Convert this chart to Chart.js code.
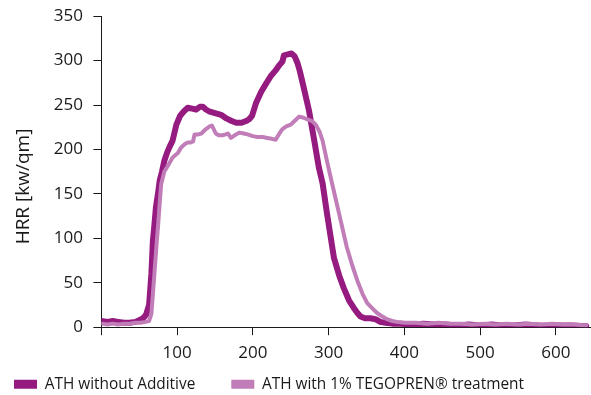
<!DOCTYPE html>
<html>
<head>
<meta charset="utf-8">
<script src="https://cdn.jsdelivr.net/npm/chart.js@4"></script>
<style>
  html, body { margin: 0; padding: 0; background: #fff; }
  #wrap { width: 591px; height: 395px; }
</style>
</head>
<body>
<div id="wrap"><canvas id="myChart"></canvas></div>
<script>
// HRR curves (time in s, HRR in kw/qm)

const darkTime = [0,8,15,22,30,37,45,50,55,59,
    63,66,68,70,72,75,77,80,83,87,
    90,94,99,104,109,114,120,125,130,134,
    138,142,150,158,165,172,178,185,191,195,
    199,204,211,218,224,230,235,239,241,246,
    251,255,259,262,267,274,281,287,292,298,
    307,314,320,327,333,338,342,348,355,362,
    368,375,384,395,410,425,440,455,470,485,
    500,515,530,545,560,575,590,605,620,640];
const darkHRR = [7,6,7,6,5,5,6,8,10,14,
    25,60,97,115,135,152,165,175,187,197,
    203,210,228,238,243,247,246,245,248,248,
    245,243,241,239,235,232,230,230,232,234,
    238,252,265,275,283,289,295,299,306,307,
    308,305,297,288,270,244,210,180,162,127,
    78,58,44,30,22,16,12,10,10,9,
    6,5,4,4,3,4,3,3,2,3,
    2,3,2,2,3,2,1,2,2,1];

const lightTime = [0,8,15,22,30,37,45,52,58,63,
    66,70,73,75,77,79,83,88,94,101,
    105,110,114,118,121,123,128,132,138,143,
    146,151,155,160,164,167,171,176,182,188,
    193,200,206,213,219,225,230,235,239,244,
    250,255,261,266,272,278,283,288,292,298,
    305,314,324,331,338,345,351,358,364,371,
    377,384,390,400,415,430,445,460,475,490,
    505,520,535,550,565,580,595,610,625,640];
const lightHRR = [4,3,4,3,4,4,5,5,6,7,
    15,60,95,116,140,161,175,182,191,196,
    202,206,208,208,209,217,217,218,223,226,
    227,218,216,216,217,218,213,216,219,218,
    217,215,214,214,213,212,211,218,223,226,
    228,232,237,236,234,232,228,220,210,186,
    160,127,90,70,52,37,27,21,16,12,
    9,7,6,5,5,4,5,4,4,3,
    4,3,4,3,4,3,4,3,3,2];

const seriesNames = ['ATH without Additive', 'ATH with 1% TEGOPREN\u00ae treatment'];
const xTicks = [100, 200, 300, 400, 500, 600];
const yTicks = [0, 50, 100, 150, 200, 250, 300, 350];

const darkColor = '#951b81';
const lightColor = '#c17db8';
const inkColor = '#1a1a1a';
const font = "'Open Sans', sans-serif";

const toPoints = (xs, ys) => xs.map((x, i) => ({x: x, y: ys[i]}));

const ctx = document.getElementById('myChart').getContext('2d');

const myChart = new Chart(ctx, {
    type: 'line',
    data: {
        datasets: [{
            label: seriesNames[0],
            data: toPoints(darkTime, darkHRR),
            borderColor: darkColor,
            backgroundColor: darkColor,
            borderWidth: 6,
            order: 1
        }, {
            label: seriesNames[1],
            data: toPoints(lightTime, lightHRR),
            borderColor: lightColor,
            backgroundColor: lightColor,
            borderWidth: 4,
            order: 0
        }]
    },
    options: {
        responsive: true,
        maintainAspectRatio: false,
        animation: false,
        elements: {
            point: {radius: 0},
            line: {tension: 0, borderJoinStyle: 'round', borderCapStyle: 'round'}
        },
        layout: {padding: {left: 10, right: 1, top: 0, bottom: -7}},
        scales: {
            x: {
                type: 'linear',
                min: 0,
                max: 645,
                afterBuildTicks: (axis) => {
                    axis.ticks = [0].concat(xTicks).map(v => ({value: v}));
                },
                afterFit: (axis) => {
                    axis.height += 1;
                },
                ticks: {
                    color: inkColor,
                    font: {family: font, size: 17},
                    padding: 8,
                    maxRotation: 0,
                    callback: (value) => value === 0 ? '' : value
                },
                grid: {
                    drawOnChartArea: false,
                    drawTicks: true,
                    tickLength: 8,
                    color: inkColor
                },
                border: {color: inkColor, width: 1}
            },
            y: {
                min: 0,
                max: 350,
                afterBuildTicks: (axis) => {
                    axis.ticks = yTicks.map(v => ({value: v}));
                },
                ticks: {
                    color: inkColor,
                    font: {family: font, size: 17},
                    padding: 6,
                    // trailing space keeps the labels a little away from the tick marks
                    callback: (value) => value + '\u00a0'
                },
                grid: {
                    drawOnChartArea: false,
                    drawTicks: true,
                    tickLength: 8,
                    color: inkColor
                },
                border: {color: inkColor, width: 1},
                title: {
                    display: true,
                    // trailing spaces push the title a bit below the middle, as in the picture
                    text: 'HRR [kw/qm]' + '\u00a0'.repeat(6),
                    color: inkColor,
                    font: {family: font, size: 19},
                    padding: {top: 2, bottom: 13}
                }
            }
        },
        plugins: {
            tooltip: {enabled: false},
            legend: {
                position: 'bottom',
                align: 'start',
                labels: {
                    boxWidth: 23,
                    boxHeight: 9,
                    padding: 4,
                    color: inkColor,
                    font: {family: font, size: 15.4},
                    sort: (a, b) => a.datasetIndex - b.datasetIndex,
                    // widen the first entry so the second starts where it does in the picture
                    generateLabels: (chart) => {
                        const items = Chart.defaults.plugins.legend.labels.generateLabels(chart);
                        items.forEach(item => {
                            item.lineWidth = 0;
                            if (item.datasetIndex === 0) item.text = item.text + '\u00a0'.repeat(8);
                        });
                        return items;
                    }
                }
            }
        }
    }
});
</script>
</body>
</html>
